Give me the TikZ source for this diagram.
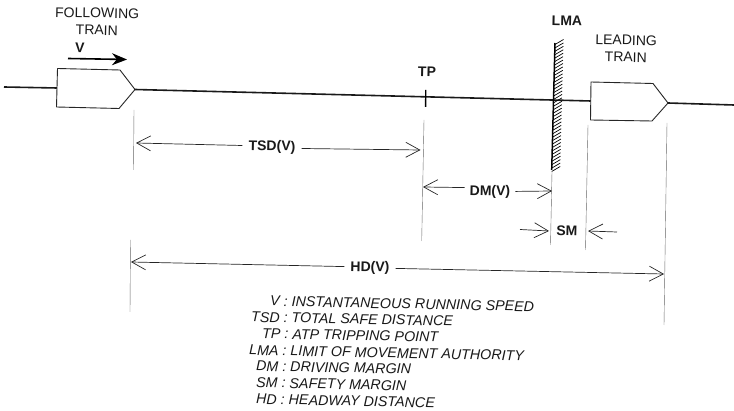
\documentclass[tikz,border=0pt]{standalone}
\usepackage{fontspec}
\setmainfont{Liberation Sans}
\usetikzlibrary{arrows.meta,calc}
\tikzset{
  track/.style={line width=1.6pt,black!90},
  trainbody/.style={line width=0.9pt,black!85,fill=white,line join=round},
  guide/.style={line width=0.4pt,black!60},
  dimline/.style={line width=0.7pt,black!85},
  barb/.style={dimline,-{Straight Barb[length=14pt,width=15pt,line width=0.7pt]}},
  lab/.style={font=\fontsize{14}{17}\selectfont,inner sep=0pt,black!90,rotate=-1.2},
  blab/.style={font=\bfseries\fontsize{14}{17}\selectfont,inner sep=0pt,black!90,rotate=-1.2},
  legend/.style={font=\itshape\fontsize{14.3}{17}\selectfont,inner sep=0pt,anchor=west,black!90,rotate=-1.2},
}
\begin{document}
\begin{tikzpicture}[x=1pt,y=-1pt]
\useasboundingbox (0,0) rectangle (734,411);
% key points
\coordinate (trackL) at (4,87);
\coordinate (f1) at (57,88);
\coordinate (fnose) at (135,89.5);
\coordinate (l1) at (591,101);
\coordinate (lnose) at (668,103);
\coordinate (trackR) at (734,105);
% track
\draw[track] (trackL) -- (f1);
\draw[track] (fnose) -- (l1);
\draw[track] (lnose) -- (trackR);
% trains
\draw[trainbody] (57.5,68.5) -- (120,70) -- (fnose) -- (119,108.5) -- (56.5,107) -- cycle;
\draw[trainbody] (591,82) -- (653,83.5) -- (lnose) -- (652,121) -- (590.5,120) -- cycle;
% speed arrow
\coordinate (vs) at (68,58.5);
\coordinate (ve) at (127,59.5);
\draw[line width=1.6pt,-{Stealth[length=15pt,width=12pt]}] (vs) -- (ve);
% TP tick
\coordinate (tpa) at (425.7,90);
\coordinate (tpb) at (425.6,107);
\draw[line width=1.3pt] (tpa) -- (tpb);
% LMA wall
\coordinate (lmaT) at (555,43);
\coordinate (lmaB) at (551.7,170);
\draw[line width=1.5pt] (lmaT) -- (lmaB);
\foreach \i in {0,...,37}{
  \draw[line width=0.7pt] ($(lmaT)!\i/37!(lmaB)+(0,1.5)$) -- ++(8.5,-5);
}
% guides
\draw[guide] (134,110) -- (133.5,170);
\draw[guide] (130.5,240) -- (130,312);
\draw[guide] (424,120) -- (421.7,241);
\draw[guide] (552,172) -- (550.5,245);
\draw[guide] (588,125) -- (585.5,250);
\draw[guide] (667,123) -- (664,325);
% labels
\node[lab,align=center] (following) at (97,21.5) {FOLLOWING\\TRAIN};
\node[blab] (v) at (80,48) {V};
\node[blab] (tp) at (427,72) {TP};
\node[blab] (lma) at (567,21) {LMA};
\node[lab,align=center] (leading) at (626,48.5) {LEADING\\TRAIN};
\node[blab] (tsd) at (272,147) {TSD(V)};
\node[blab] (dm) at (490,192) {DM(V)};
\node[blab] (sm) at (567,231) {SM};
\node[blab] (hd) at (370,268) {HD(V)};
% dimension arrows
\coordinate (tsdL) at (136,143);
\coordinate (tsdR) at (420.5,150);
\coordinate (dmL) at (423,187);
\coordinate (dmR) at (552,191);
\coordinate (smL) at (520,229.5);
\coordinate (smLt) at (549,231);
\coordinate (smR) at (617,232);
\coordinate (smRt) at (588,231);
\coordinate (hdL) at (131,262);
\coordinate (hdR) at (664,274);
\draw[barb] (tsd.west) ++(-6,-1) -- (tsdL);
\draw[barb] (tsd.east) ++(6,1) -- (tsdR);
\draw[barb] (dm.west) ++(-5,-4) -- (dmL);
\draw[barb] (dm.east) ++(5,-1) -- (dmR);
\draw[barb] (smL) -- (smLt);
\draw[barb] (smR) -- (smRt);
\draw[barb] (hd.west) ++(-6,-1) -- (hdL);
\draw[barb] (hd.east) ++(6,0) -- (hdR);
% legend
\node[legend] (l1t) at (270,301) {V : INSTANTANEOUS RUNNING SPEED};
\node[legend] (l2t) at (251,317) {TSD : TOTAL SAFE DISTANCE};
\node[legend] (l3t) at (262,333.5) {TP : ATP TRIPPING POINT};
\node[legend] (l4t) at (249,350) {LMA : LIMIT OF MOVEMENT AUTHORITY};
\node[legend] (l5t) at (256,366) {DM : DRIVING MARGIN};
\node[legend] (l6t) at (256,382.5) {SM : SAFETY MARGIN};
\node[legend] (l7t) at (256,399) {HD : HEADWAY DISTANCE};
\end{tikzpicture}
\end{document}
